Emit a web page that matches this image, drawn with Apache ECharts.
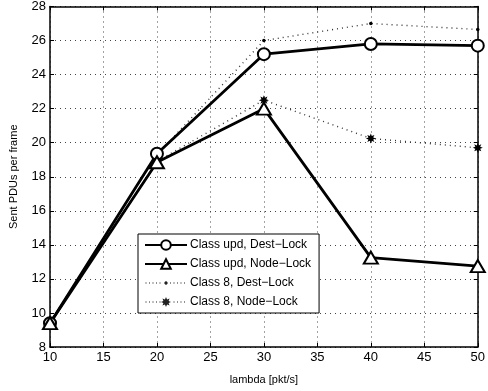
<!DOCTYPE html>
<html>
<head>
<meta charset="utf-8">
<script src="https://cdn.jsdelivr.net/npm/echarts@6/dist/echarts.min.js"></script>
<style>
  html, body { margin: 0; padding: 0; background: #fff; }
  #chart { width: 488px; height: 391px; }
</style>
</head>
<body>
<div id="chart"></div>
<script>
// Offered load (pkt/s)
const lambdas = [10, 20, 30, 40, 50];

// Sent PDUs per frame for each class / locking scheme
const classUpdDestLock = [9.4, 19.35, 25.2, 25.8, 25.7];
const classUpdNodeLock = [9.4, 18.85, 22.0, 13.25, 12.75];
const class8DestLock   = [9.4, 19.3, 26.0, 27.0, 26.65];
const class8NodeLock   = [9.4, 18.9, 22.5, 20.25, 19.7];

const seriesNames = [
  'Class upd, Dest\u2212Lock',
  'Class upd, Node\u2212Lock',
  'Class 8, Dest\u2212Lock',
  'Class 8, Node\u2212Lock'
];

const pairs = vals => lambdas.map((x, i) => [x, vals[i]]);

// ---- marker / legend icon shapes ----
function starPath(cx, cy, rOut, rIn, n) {
  let d = '';
  for (let i = 0; i < 2 * n; i++) {
    const r = i % 2 === 0 ? rOut : rIn;
    const a = Math.PI * i / n - Math.PI / 2;
    const x = (cx + r * Math.cos(a)).toFixed(2);
    const y = (cy + r * Math.sin(a)).toFixed(2);
    d += (i === 0 ? 'M' : 'L') + x + ',' + y + ' ';
  }
  return d + 'Z ';
}
function square(cx, cy, s) {
  const h = s / 2;
  return 'M' + (cx - h) + ',' + (cy - h) + ' L' + (cx + h) + ',' + (cy - h) +
         ' L' + (cx + h) + ',' + (cy + h) + ' L' + (cx - h) + ',' + (cy + h) + ' Z ';
}
// dotted legend line with a centre marker
function dottedIcon(centre, gapHalf) {
  let d = '';
  for (let x = 1; x <= 41; x += 3.5) {
    if (Math.abs(x - 21) > gapHalf) d += square(x, 6, 1.1);
  }
  return 'path://' + d + centre + square(0, 6, 0.01) + square(42, 6, 0.01);
}

const asterisk = 'path://' + starPath(10, 10, 10, 5.2, 8);
const dotIconPath = dottedIcon(starPath(21, 6, 1.7, 1.7, 6), 2.5);
const starIconPath = dottedIcon(starPath(21, 6, 5, 2.8, 8), 5.5);

const font = 'Liberation Sans, Arial, Helvetica, sans-serif';

const chart = echarts.init(document.getElementById('chart'), null, { renderer: 'canvas' });

const gridLine = { show: true, lineStyle: { color: '#444', type: [1, 4], width: 1 } };
const tickIn = { show: true, inside: true, length: 4, lineStyle: { color: '#000', width: 1 } };

chart.setOption({
  animation: false,
  backgroundColor: '#fff',
  textStyle: { fontFamily: font },
  grid: { left: 46, right: 4, top: 1.5, bottom: 44, containLabel: false },
  xAxis: [{
    type: 'value', min: 10, max: 50, interval: 5,
    name: 'lambda [pkt/s]', nameLocation: 'middle', nameGap: 27,
    nameTextStyle: { color: '#000', fontSize: 11, fontFamily: font },
    axisLine: { show: true, lineStyle: { color: '#000', width: 1.5 } },
    axisTick: tickIn,
    axisLabel: { color: '#000', fontSize: 13, margin: 4, fontFamily: font },
    splitLine: gridLine
  }, {
    type: 'value', min: 10, max: 50, interval: 5, position: 'top',
    axisLine: { show: true, onZero: false, lineStyle: { color: '#000', width: 1.5 } },
    axisTick: tickIn, axisLabel: { show: false }, splitLine: { show: false }
  }],
  yAxis: [{
    type: 'value', min: 8, max: 28, interval: 2,
    name: 'Sent PDUs per frame', nameLocation: 'middle', nameGap: 31,
    nameTextStyle: { color: '#000', fontSize: 11, fontFamily: font },
    axisLine: { show: true, lineStyle: { color: '#000', width: 1.5 } },
    axisTick: tickIn,
    axisLabel: { color: '#000', fontSize: 13, margin: 4, fontFamily: font },
    splitLine: gridLine
  }, {
    type: 'value', min: 8, max: 28, interval: 2, position: 'right',
    axisLine: { show: true, onZero: false, lineStyle: { color: '#000', width: 1.5 } },
    axisTick: tickIn, axisLabel: { show: false }, splitLine: { show: false }
  }],
  legend: {
    orient: 'vertical',
    left: 138, top: 234,
    padding: [5, 8, 5, 6],
    itemWidth: 42, itemHeight: 12, itemGap: 7,
    backgroundColor: '#fff',
    borderColor: '#000', borderWidth: 1, borderRadius: 0,
    textStyle: { color: '#000', fontSize: 12, fontFamily: font, padding: [0, 0, 0, -2] },
    data: [
      { name: seriesNames[0] },
      { name: seriesNames[1] },
      { name: seriesNames[2], icon: dotIconPath, itemStyle: { color: '#222' } },
      { name: seriesNames[3], icon: starIconPath, itemStyle: { color: '#222' } }
    ]
  },
  series: [{
    name: seriesNames[0], type: 'line', data: pairs(classUpdDestLock),
    symbol: 'emptyCircle', symbolSize: 12,
    itemStyle: { color: '#000', borderColor: '#000', borderWidth: 2.2 },
    lineStyle: { color: '#000', width: 2.8 }, z: 4
  }, {
    name: seriesNames[1], type: 'line', data: pairs(classUpdNodeLock),
    symbol: 'emptyTriangle', symbolSize: [14, 12],
    itemStyle: { color: '#000', borderColor: '#000', borderWidth: 2.2 },
    lineStyle: { color: '#000', width: 2.8 }, z: 4
  }, {
    name: seriesNames[2], type: 'line', data: pairs(class8DestLock),
    symbol: 'circle', symbolSize: 3.5,
    itemStyle: { color: '#000' },
    lineStyle: { color: '#333', width: 1.4, type: [1, 4] }, z: 3
  }, {
    name: seriesNames[3], type: 'line', data: pairs(class8NodeLock),
    symbol: asterisk, symbolSize: 10,
    itemStyle: { color: '#000' },
    lineStyle: { color: '#333', width: 1.4, type: [1, 4] }, z: 3
  }]
});
</script>
</body>
</html>
